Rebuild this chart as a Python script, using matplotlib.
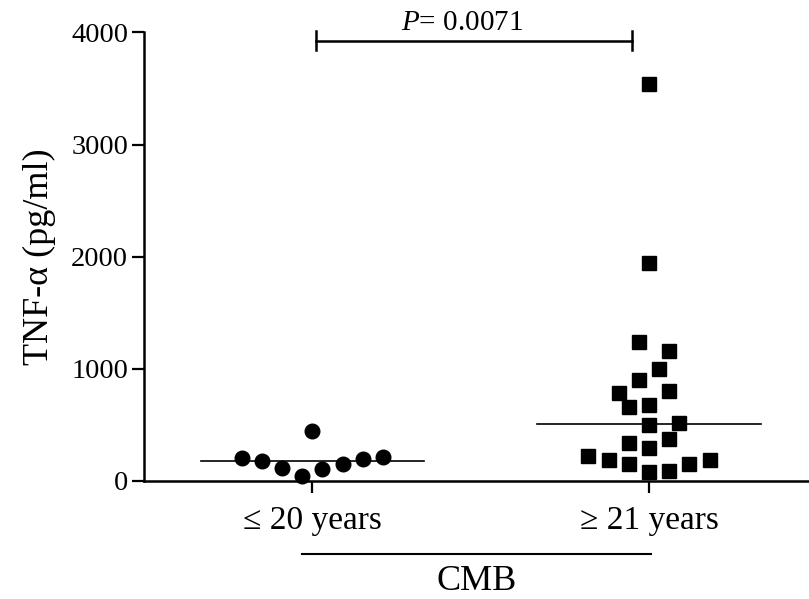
import matplotlib
matplotlib.use("Agg")
import matplotlib.pyplot as plt
import matplotlib.transforms as mtransforms
import numpy as np

plt.rcParams['font.family'] = ['Liberation Serif', 'DejaVu Serif']
plt.rcParams['mathtext.fontset'] = 'custom'
plt.rcParams['mathtext.rm'] = 'Liberation Serif'
plt.rcParams['mathtext.it'] = 'Liberation Serif:italic'

# data
group_labels = ['\u2264 20 years', '\u2265 21 years']
young_vals = [203, 182, 114, 45, 107, 152, 194, 217, 447]
young_jitter = [-0.21, -0.15, -0.09, -0.03, 0.03, 0.09, 0.15, 0.21, 0.0]
old_vals = [3536, 1941, 1241, 1163, 1002, 897, 805, 784, 659, 680, 501, 521,
            337, 376, 292, 224, 188, 149, 83, 92, 152, 188]
old_jitter = [0.0, 0.0, -0.03, 0.06, 0.03, -0.03, 0.06, -0.09, -0.06, 0.0, 0.0, 0.09,
              -0.06, 0.06, 0.0, -0.18, -0.12, -0.06, 0.0, 0.06, 0.12, 0.18]
p_text = '0.0071'

fig = plt.figure(figsize=(8.09, 5.99), dpi=100)
ax = fig.add_axes([0.178, 0.197, 0.822, 0.749])

xs1 = 1 + np.array(young_jitter)
xs2 = 2 + np.array(old_jitter)
ax.plot(xs1, young_vals, 'o', color='black', markersize=10.5, linestyle='none', clip_on=False, zorder=3)
ax.plot(xs2, old_vals, 's', color='black', markersize=9.5, linestyle='none', clip_on=False, zorder=3)

# medians
hw = 0.332
for xc, vals in [(1, young_vals), (2, old_vals)]:
    med = np.median(vals)
    ax.plot([xc - hw, xc + hw], [med, med], color='black', lw=1.2, zorder=2)

ax.set_xlim(0.5, 2.475)
ax.set_ylim(0, 4000)
ax.set_xticks([1, 2])
ax.set_xticklabels(group_labels, fontsize=24)
ax.set_yticks([0, 1000, 2000, 3000, 4000])
ax.tick_params(axis='y', labelsize=20.5, length=8.5, width=1.6, pad=3)
ax.tick_params(axis='x', length=8.5, width=1.6, pad=9)
for s in ['top', 'right']:
    ax.spines[s].set_visible(False)
for s in ['left', 'bottom']:
    ax.spines[s].set_linewidth(1.8)
ax.set_ylabel('TNF-\u03b1 (pg/ml)', fontsize=26, labelpad=11)

# significance bracket
yb = 3925
ax.plot([1.012, 1.95], [yb, yb], color='black', lw=1.8, clip_on=False)
for xe in [1.012, 1.95]:
    ax.plot([xe, xe], [yb - 85, yb + 85], color='black', lw=1.8, clip_on=False)
ax.text(1.445, 4025, r'$\it{P}$' + '= ' + p_text, ha='center', va='baseline', fontsize=21)

# CMB grouping line
trans = mtransforms.blended_transform_factory(ax.transData, ax.transAxes)
ax.plot([0.97, 2.006], [-0.163, -0.163], color='black', lw=1.5, transform=trans, clip_on=False)
ax.text(1.488, -0.225, 'CMB', transform=trans, ha='center', va='center', fontsize=26)

fig.savefig('out.png', dpi=100)
